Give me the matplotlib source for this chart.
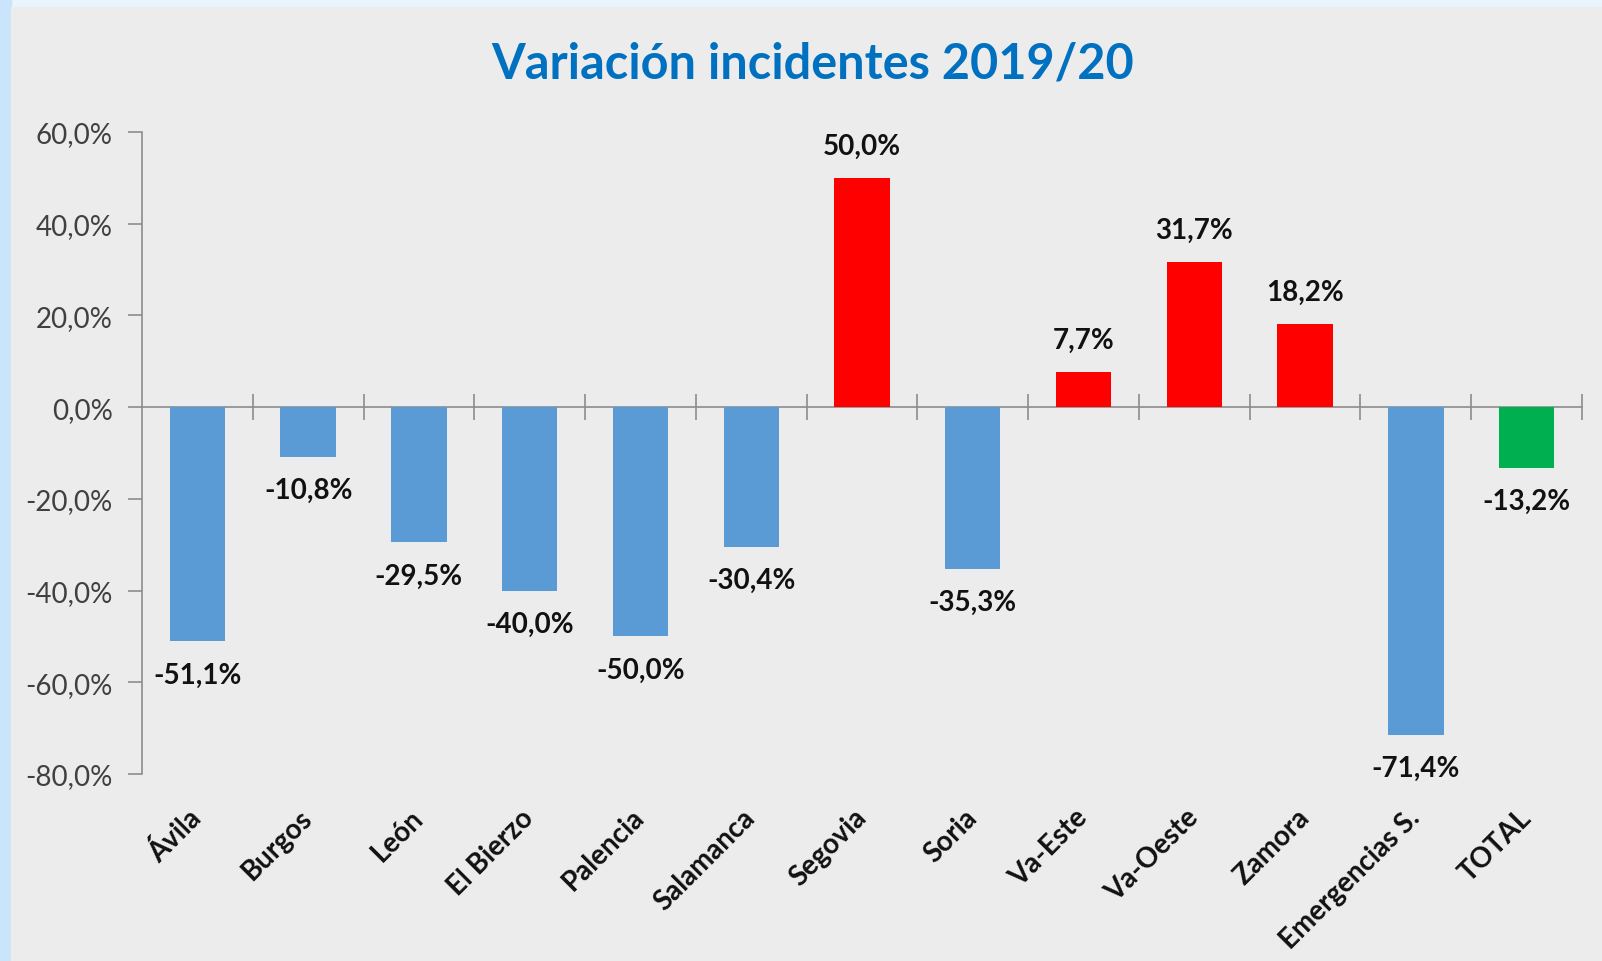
import matplotlib
matplotlib.use('Agg')
import matplotlib.pyplot as plt
import numpy as np
from matplotlib.patches import Rectangle
from matplotlib.ticker import FuncFormatter, MultipleLocator

categories = ['Ávila', 'Burgos', 'León', 'El Bierzo', 'Palencia', 'Salamanca',
              'Segovia', 'Soria', 'Va-Este', 'Va-Oeste', 'Zamora',
              'Emergencias S.', 'TOTAL']
variation = [-51.1, -10.8, -29.5, -40.0, -50.0, -30.4, 50.0, -35.3,
             7.7, 31.7, 18.2, -71.4, -13.2]

BLUE = '#5B9BD5'
RED = '#FF0000'
GREEN = '#00B050'
GREY = '#8C8C8C'


def pct(v):
    return f'{v:.1f}%'.replace('.', ',')


plt.rc('font', family=['Lato', 'DejaVu Sans'])

fig = plt.figure(figsize=(16.02, 9.62), dpi=100, facecolor='#eaf4fd')
# panel background (slide look)
fig.patches.append(Rectangle((0, 0), 11 / 1602, 1, transform=fig.transFigure,
                             color='#c9e4fb', zorder=-10))
fig.patches.append(Rectangle((11 / 1602, 0), 1, 1 - 8 / 962,
                             transform=fig.transFigure, color='#ececec', zorder=-10))

ax = fig.add_axes([142 / 1602, 1 - 775 / 962, 1440 / 1602, 642 / 962])
ax.set_facecolor('none')

x = np.arange(len(categories))
colors = []
for name, v in zip(categories, variation):
    if name == 'TOTAL':
        colors.append(GREEN)
    elif v >= 0:
        colors.append(RED)
    else:
        colors.append(BLUE)

ax.bar(x, variation, width=0.5, color=colors, zorder=3)

for xi, v in zip(x, variation):
    off = 23 if v >= 0 else -24
    ax.annotate(pct(v), (xi, v), xytext=(0, off), textcoords='offset points',
                ha='center', va='center', fontsize=20, fontweight='bold',
                color='#111111')

ax.set_xlim(-0.5, len(categories) - 0.5)
ax.set_ylim(-80, 60)
ax.yaxis.set_major_locator(MultipleLocator(20))
ax.yaxis.set_major_formatter(FuncFormatter(lambda v, p: pct(v)))
ax.tick_params(axis='y', direction='out', length=10, width=1.2, color=GREY,
               labelsize=20, labelcolor='#404040', pad=11)

ax.set_xticks(x)
ax.set_xticklabels(categories, rotation=45, ha='right', va='center',
                   rotation_mode='anchor', fontsize=20, fontweight='bold',
                   color='#111111')
ax.tick_params(axis='x', length=0, pad=28)

for s in ['top', 'right', 'bottom']:
    ax.spines[s].set_visible(False)
ax.spines['left'].set_color(GREY)
ax.spines['left'].set_linewidth(1.2)

# zero line with category separators
zero_at = (0 - (-80)) / (60 - (-80))
sec = ax.secondary_xaxis(zero_at)
sec.set_xticks(np.arange(1, len(categories) + 1) - 0.5)
sec.set_xticklabels([])
sec.tick_params(direction='inout', length=19, width=1.2, color=GREY)
for sp in sec.spines.values():
    sp.set_color(GREY)
    sp.set_linewidth(1.2)

fig.text(813 / 1602, 1 - 64 / 962, 'Variación incidentes 2019/20',
         ha='center', va='center', fontsize=35, fontweight='bold',
         color='#0070C0')

fig.savefig('out.png', dpi=100, facecolor=fig.get_facecolor())
